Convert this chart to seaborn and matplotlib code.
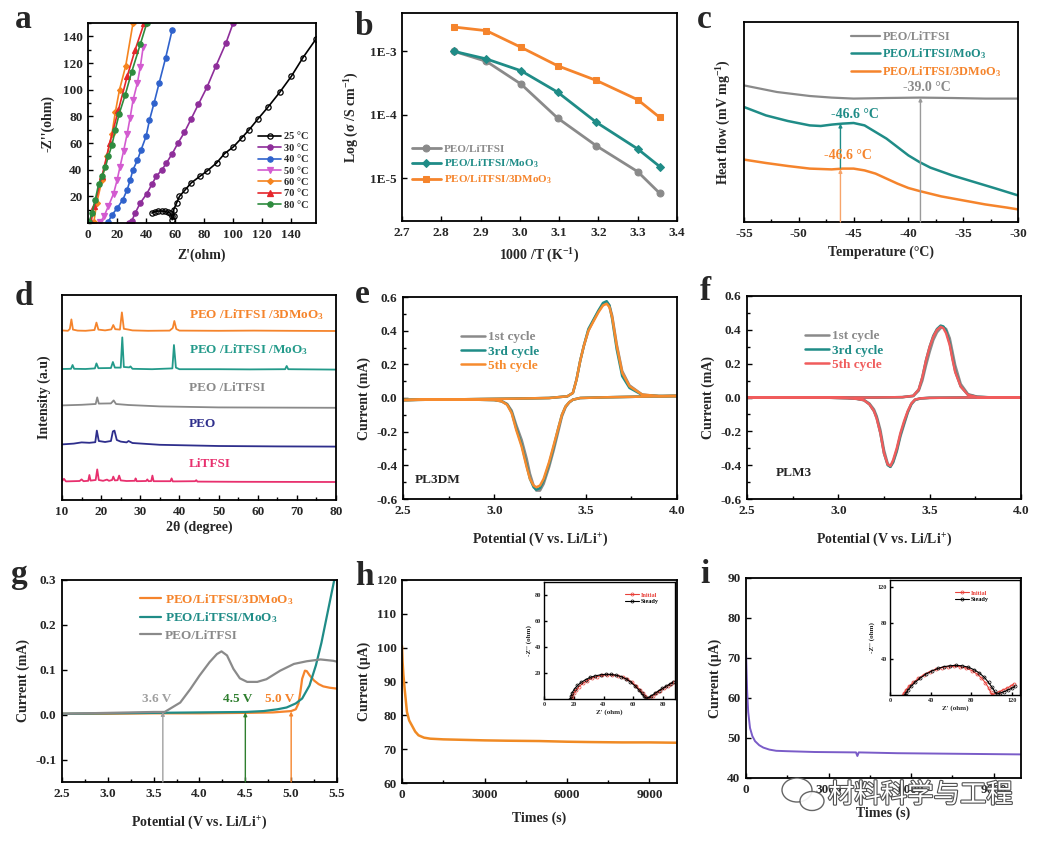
import matplotlib
matplotlib.use("Agg")
import matplotlib.pyplot as plt
import matplotlib.patheffects as pe
from matplotlib.patches import Ellipse
from matplotlib.ticker import AutoMinorLocator, NullLocator, MultipleLocator
import seaborn as sns

# ---------------- data ----------------
# (a) Nyquist plots at different temperatures
a_x_25 = [44, 46, 48.5, 51, 53, 55, 56.5, 57.7, 58, 59, 59, 61, 63, 67, 71, 77, 82, 88.5, 94, 100, 106, 111, 117, 124, 132, 140, 148, 157]
a_y_25 = [7.5, 8.5, 9, 9, 8.7, 8, 7.5, 5, 2.5, 5, 10, 15, 20, 25, 30, 35, 39, 45, 52, 57, 64, 70, 78, 87, 98, 110, 124, 138]
a_x_30 = [28, 30, 32.5, 36, 40.5, 44, 47, 51, 54, 58, 62, 66.4, 71, 76, 82, 88, 95, 100]
a_y_30 = [0, 1.2, 7.5, 15, 22, 29, 35, 40, 45, 52, 60, 68, 78, 89, 102, 117.5, 135, 150]
a_x_40 = [14, 16.5, 20, 24, 27, 29, 31, 34, 36.6, 40, 42.3, 45.5, 49, 53.5, 58]
a_y_40 = [1, 6, 11, 17.5, 25, 32, 40, 47, 55, 65, 77, 90, 105, 124, 145]
a_x_50 = [8.5, 11, 14, 17.6, 20, 22, 24.5, 27, 29, 31, 34, 36, 38]
a_y_50 = [0.5, 5, 12.5, 22, 32, 42, 54, 67, 79, 92, 105, 117, 132]
a_x_60 = [4, 6, 9.6, 13, 16.5, 18.8, 21.7, 26, 31]
a_y_60 = [0.5, 15, 32, 50, 67, 83, 100, 118, 150]
a_x_70 = [2, 4.3, 9.6, 15, 21, 27, 32.5, 38.7]
a_y_70 = [0.5, 12.5, 35, 60, 85, 110, 130, 150]
a_x_80 = [0.7, 2.7, 5, 7.3, 9.6, 12, 14, 16.5, 18.8, 21.5, 25.6, 30, 36, 40.5]
a_y_80 = [0.5, 7.5, 17.5, 29, 35, 42, 50, 58.5, 70, 82, 96, 113, 134, 150]
a_labels = ["25 °C", "30 °C", "40 °C", "50 °C", "60 °C", "70 °C", "80 °C"]

# (b) Arrhenius plot
b_x = [2.833, 2.915, 3.003, 3.096, 3.195, 3.300, 3.356]
b_peo = [1.0e-3, 6.95e-4, 3.05e-4, 8.9e-5, 3.24e-5, 1.27e-5, 5.8e-6]
b_moo3 = [1.0e-3, 7.6e-4, 4.95e-4, 2.28e-4, 7.6e-5, 2.9e-5, 1.53e-5]
b_3dmoo3 = [2.42e-3, 2.12e-3, 1.16e-3, 5.94e-4, 3.48e-4, 1.73e-4, 9.1e-5]

# (c) DSC curves (arbitrary heat flow units)
c_x_peo = [-55, -52, -49, -47, -45, -42, -39, -36, -33, -30]
c_y_peo = [68.3, 65, 63, 62.2, 61.7, 62, 62.2, 62, 61.7, 61.7]
c_x_moo3 = [-55, -53, -51, -49, -48, -47, -46, -45, -44, -43, -42, -41, -40, -39, -38, -36, -34, -32, -30]
c_y_moo3 = [57.5, 53.3, 50.5, 48.3, 48, 48.7, 49.2, 49.5, 48.3, 45, 41.7, 37.5, 33.3, 30, 27.2, 23.3, 20, 16.7, 13.3]
c_x_3d = [-55, -53, -51, -49, -47, -46, -45, -44, -43, -42, -41, -40, -39, -37, -35, -33, -31, -30]
c_y_3d = [31.2, 29.5, 28, 26.7, 26.3, 26.7, 26.7, 25.8, 24.2, 21.7, 19.2, 17, 15.5, 12.8, 10.8, 8.8, 7.2, 6.3]

# (d) XRD patterns (stacked, offset units)
d_x_3d = [10, 11.5, 12.0, 12.4, 12.8, 14, 16, 18.3, 18.8, 19.3, 21, 22.6, 23.1, 23.6, 24.8, 25.3, 25.8, 27, 28, 32, 37.5, 38.3, 38.7, 39.2, 40, 50, 59, 67.5, 80]
d_y_3d = [84.8, 84.6, 85.5, 90.3, 85.2, 84.7, 84.6, 85, 88.7, 85.2, 84.8, 85.3, 87.5, 85.4, 85.2, 93.8, 85.6, 85.2, 84.8, 84.6, 84.7, 86, 89.5, 85.5, 84.7, 84.6, 84.7, 84.6, 84.5]
d_x_moo3 = [10, 12.3, 12.7, 13.1, 16, 18.4, 18.8, 19.3, 22.5, 23, 23.5, 25, 25.4, 25.8, 27.2, 27.5, 28, 33, 38.2, 38.6, 39.1, 40, 50, 58, 67, 67.4, 67.8, 80]
d_y_moo3 = [65.5, 65.6, 67.5, 65.6, 65.5, 65.8, 68.3, 65.9, 66, 69, 66.2, 66.2, 81.3, 66.5, 66.3, 66.8, 65.6, 65.4, 65.8, 77.5, 66.2, 65.4, 65.4, 65.3, 65.4, 67, 65.4, 65.2]
d_x_peo_li = [10, 15, 18.6, 19, 19.4, 22.5, 23.2, 23.8, 27, 35, 50, 65, 80]
d_y_peo_li = [47.3, 47.6, 48, 51.3, 48.2, 48.3, 49.8, 48, 47.5, 46.8, 46.3, 46.2, 46.1]
d_x_peo = [10, 13, 15, 17, 18.5, 18.9, 19.4, 21, 22.5, 23.0, 23.4, 24, 25, 26.5, 27, 28, 35, 50, 65, 80]
d_y_peo = [27.8, 28.2, 28.8, 28.6, 28.9, 34.7, 29.5, 29, 29.5, 34.3, 34.7, 30, 29.2, 28.8, 29.5, 28.5, 27.6, 27, 26.8, 26.7]
d_x_li = [10, 10.5, 11, 14.5, 15, 15.5, 16.7, 17.0, 17.3, 18.6, 19.0, 19.4, 20.5, 21.5, 22, 22.8, 23.1, 23.5, 24.2, 24.6, 25, 26.5, 28.6, 28.8, 29.1, 31.5, 31.8, 32.1, 32.8, 33.1, 33.4, 37.7, 38, 38.3, 44, 44.3, 44.6, 55, 80]
d_y_li = [9.4, 10.6, 9.3, 9.5, 10.3, 9.4, 9.6, 12.5, 9.7, 10, 15.3, 10, 9.6, 10.2, 9.6, 10, 11.7, 9.8, 9.9, 12.2, 9.8, 9.5, 9.6, 10.8, 9.4, 9.5, 10.3, 9.4, 9.5, 12.2, 9.4, 9.4, 10.8, 9.3, 9.4, 9.9, 9.2, 9.1, 9.0]
d_labels = ["PEO /LiTFSI /3DMoO$_3$", "PEO /LiTFSI /MoO$_3$", "PEO /LiTFSI", "PEO", "LiTFSI"]
d_label_y = [92.5, 75, 55.8, 38, 17.8]

# (e) CV of PL3DM: anodic and cathodic branches
e_xa = [2.5, 2.8, 3.1, 3.3, 3.4, 3.43, 3.45, 3.47, 3.49, 3.515, 3.54, 3.57, 3.595, 3.615, 3.63, 3.645, 3.67, 3.70, 3.74, 3.81, 3.9, 4.0]
e_ya_1 = [-0.012, -0.008, -0.004, 0.0, 0.01, 0.03, 0.11, 0.22, 0.31, 0.40, 0.455, 0.515, 0.555, 0.57, 0.55, 0.49, 0.32, 0.16, 0.075, 0.02, 0.012, 0.012]
e_ya_3 = [-0.012, -0.008, -0.004, 0.0, 0.01, 0.03, 0.11, 0.22, 0.31, 0.41, 0.46, 0.52, 0.565, 0.575, 0.55, 0.47, 0.29, 0.13, 0.06, 0.018, 0.012, 0.012]
e_ya_5 = [-0.012, -0.008, -0.004, 0.0, 0.01, 0.03, 0.11, 0.22, 0.31, 0.40, 0.45, 0.51, 0.55, 0.56, 0.54, 0.48, 0.31, 0.15, 0.07, 0.02, 0.012, 0.012]
e_xc = [4.0, 3.8, 3.6, 3.47, 3.43, 3.41, 3.39, 3.37, 3.35, 3.325, 3.3, 3.27, 3.25, 3.23, 3.215, 3.195, 3.177, 3.15, 3.12, 3.095, 3.07, 3.04, 3.0, 2.9, 2.7, 2.5]
e_yc_1 = [0.012, 0.008, 0.004, 0.0, -0.01, -0.027, -0.055, -0.11, -0.2, -0.31, -0.41, -0.51, -0.55, -0.55, -0.52, -0.45, -0.36, -0.25, -0.16, -0.075, -0.035, -0.018, -0.012, -0.01, -0.008, -0.012]
e_yc_3 = [0.012, 0.008, 0.004, 0.0, -0.01, -0.025, -0.05, -0.1, -0.18, -0.29, -0.39, -0.49, -0.535, -0.545, -0.53, -0.48, -0.40, -0.28, -0.18, -0.085, -0.038, -0.02, -0.012, -0.01, -0.008, -0.012]
e_yc_5 = [0.012, 0.008, 0.004, 0.0, -0.01, -0.025, -0.05, -0.1, -0.18, -0.28, -0.38, -0.48, -0.52, -0.53, -0.52, -0.48, -0.41, -0.29, -0.19, -0.09, -0.04, -0.02, -0.012, -0.01, -0.008, -0.012]

# (f) CV of PLM3
f_xa = [2.5, 2.9, 3.2, 3.35, 3.41, 3.44, 3.46, 3.48, 3.5, 3.52, 3.54, 3.56, 3.575, 3.59, 3.61, 3.625, 3.64, 3.67, 3.71, 3.76, 3.85, 4.0]
f_ya_1 = [0.0, 0.0, 0.0, 0.002, 0.008, 0.04, 0.1, 0.19, 0.27, 0.34, 0.385, 0.41, 0.415, 0.405, 0.35, 0.27, 0.19, 0.08, 0.02, 0.005, 0.0, 0.0]
f_ya_3 = [0.0, 0.0, 0.0, 0.002, 0.01, 0.047, 0.12, 0.22, 0.3, 0.365, 0.405, 0.425, 0.42, 0.395, 0.32, 0.235, 0.155, 0.065, 0.016, 0.004, 0.0, 0.0]
f_ya_5 = [0.0, 0.0, 0.0, 0.002, 0.01, 0.047, 0.12, 0.22, 0.3, 0.36, 0.40, 0.418, 0.41, 0.38, 0.31, 0.225, 0.15, 0.065, 0.015, 0.003, 0.0, 0.0]
f_xc = [4.0, 3.7, 3.5, 3.45, 3.42, 3.40, 3.38, 3.36, 3.34, 3.32, 3.30, 3.285, 3.27, 3.25, 3.23, 3.21, 3.195, 3.17, 3.14, 3.1, 3.05, 2.9, 2.5]
f_yc_1 = [0.0, 0.0, -0.002, -0.006, -0.015, -0.04, -0.09, -0.16, -0.23, -0.32, -0.385, -0.41, -0.39, -0.31, -0.19, -0.11, -0.07, -0.035, -0.014, -0.007, -0.004, 0.0, 0.0]
f_yc_3 = [0.0, 0.0, -0.002, -0.005, -0.013, -0.037, -0.085, -0.15, -0.22, -0.31, -0.38, -0.41, -0.4, -0.33, -0.21, -0.12, -0.08, -0.04, -0.016, -0.008, -0.004, 0.0, 0.0]
f_yc_5 = [0.0, 0.0, -0.002, -0.005, -0.012, -0.035, -0.08, -0.14, -0.21, -0.3, -0.37, -0.405, -0.395, -0.33, -0.21, -0.125, -0.08, -0.04, -0.016, -0.008, -0.004, 0.0, 0.0]
cycle_labels = ["1st cycle", "3rd cycle", "5th cycle"]

# (g) LSV curves
g_x_peo = [2.5, 3.0, 3.5, 3.62, 3.79, 3.9, 4.0, 4.11, 4.19, 4.24, 4.3, 4.37, 4.44, 4.52, 4.63, 4.73, 4.88, 5.03, 5.17, 5.32, 5.46, 5.5]
g_y_peo = [0.002, 0.004, 0.006, 0.006, 0.027, 0.057, 0.087, 0.117, 0.135, 0.141, 0.132, 0.102, 0.081, 0.073, 0.073, 0.079, 0.098, 0.113, 0.119, 0.123, 0.12, 0.118]
g_x_moo3 = [2.5, 3.0, 3.5, 4.0, 4.5, 4.7, 4.85, 4.95, 5.05, 5.12, 5.2, 5.27, 5.33, 5.38, 5.43, 5.47, 5.5]
g_y_moo3 = [0.002, 0.003, 0.004, 0.005, 0.006, 0.008, 0.012, 0.016, 0.025, 0.036, 0.065, 0.11, 0.16, 0.21, 0.26, 0.3, 0.34]
g_x_3d = [2.5, 3.0, 3.5, 4.0, 4.5, 4.8, 5.0, 5.05, 5.08, 5.1, 5.12, 5.15, 5.17, 5.2, 5.25, 5.3, 5.35, 5.42, 5.5]
g_y_3d = [0.002, 0.002, 0.003, 0.003, 0.004, 0.005, 0.008, 0.012, 0.025, 0.05, 0.08, 0.098, 0.097, 0.088, 0.076, 0.068, 0.063, 0.06, 0.058]
g_onsets = [3.6, 4.5, 5.0]
g_onset_labels = ["3.6 V", "4.5 V", "5.0 V"]

# (h) chronoamperometry, PL3DM, with EIS inset
h_t = [0, 20, 50, 100, 180, 260, 360, 480, 600, 800, 1030, 1500, 2000, 3000, 3800, 5000, 6000, 6840, 8000, 9000, 10000]
h_i = [100.5, 96, 92, 87.5, 81, 78.5, 77, 75.2, 74.1, 73.4, 73.1, 72.9, 72.8, 72.6, 72.5, 72.4, 72.2, 72.1, 72.0, 72.0, 71.9]
h_ins_x_init = [18.5, 19, 20, 21.5, 23.5, 26, 29, 32, 35.5, 39, 42.5, 46, 49.5, 53, 56, 59, 62, 64.5, 66.5, 68, 69.5, 71, 73, 75.5, 78, 80.5, 83, 85.5, 87]
h_ins_y_init = [0, 2, 4.5, 7, 9.5, 12, 14.2, 16, 17.3, 18.2, 18.6, 18.5, 18, 16.8, 15.2, 13, 10, 7, 4.3, 2, 0.5, 1, 2.5, 4.5, 6.5, 8.3, 10, 11.8, 13]
h_ins_x_st = [17.8, 18.2, 19, 20.5, 22.5, 25, 28, 31, 34.5, 38, 41.5, 45, 48.5, 52, 55, 58, 61, 63.5, 65.5, 67, 68.5, 70, 72, 74.5, 77, 79.5, 82, 84.5, 86.5]
h_ins_y_st = [0, 2.3, 5, 7.8, 10.4, 12.8, 14.9, 16.6, 17.8, 18.6, 19, 18.9, 18.3, 17.1, 15.5, 13.2, 10.2, 7.2, 4.5, 2.2, 0.6, 1, 2.4, 4.3, 6.3, 8.1, 9.8, 11.5, 12.8]

# (i) chronoamperometry, PLM3, with EIS inset
i_t = [0, 15, 40, 80, 146, 230, 330, 480, 630, 850, 1100, 1500, 2500, 4000, 4050, 4100, 5500, 7000, 8500, 10000]
i_i = [71.8, 68, 62, 56.5, 52.5, 50.5, 49.2, 48.2, 47.6, 47.1, 46.8, 46.7, 46.5, 46.4, 45.5, 46.4, 46.2, 46.1, 46.0, 45.9]
i_ins_x_init = [13, 14, 16, 19, 23, 28, 33, 39, 45, 51, 57, 63, 69, 75, 81, 86, 90, 94, 97, 99, 100.5, 103, 107, 111, 115, 119, 122]
i_ins_y_init = [0, 2.5, 6, 10, 14, 18.5, 22.5, 26, 28.5, 30.5, 31.5, 32, 31.5, 30, 27, 23, 19, 13.5, 8, 3.5, 0.5, 1.5, 3.5, 5.5, 7.5, 10, 12.5]
i_ins_x_st = [15, 16, 18, 21, 25, 30, 35, 41, 47, 53, 59, 65, 71, 77, 83, 88, 93, 97, 100.5, 103, 105, 108, 112, 116, 120, 123]
i_ins_y_st = [0, 2.5, 6, 10, 14.5, 19, 23, 26.5, 29.5, 31.5, 32.5, 33, 32.5, 31, 28, 24.5, 19.5, 14, 8.5, 4, 1, 2, 3.5, 5.5, 7.5, 9.5]

# ---------------- style ----------------
sns.set_theme(style="ticks")
plt.rcParams['font.family'] = ['Liberation Serif', 'DejaVu Serif']
plt.rcParams['font.weight'] = 'bold'
plt.rcParams['axes.labelweight'] = 'bold'
plt.rcParams['mathtext.fontset'] = 'custom'
plt.rcParams['mathtext.rm'] = 'Liberation Serif:bold'
plt.rcParams['mathtext.it'] = 'Liberation Serif:italic:bold'
plt.rcParams['mathtext.bf'] = 'Liberation Serif:bold'
plt.rcParams['axes.unicode_minus'] = False

GRAY = '#8a8a8a'
TEAL = '#1f8c87'
ORANGE = '#f5842c'

W, H = 1042, 841
fig = plt.figure(figsize=(W / 100, H / 100), dpi=100)


def box(l, r, t, b):
    return [l / W, 1 - b / H, (r - l) / W, (b - t) / H]


def style(ax, fs=9.5, lab=10, lw=1.3, major=3.5, minor=2, pad=4):
    for s in ax.spines.values():
        s.set_visible(True)
        s.set_linewidth(lw)
        s.set_color('black')
    ax.tick_params(which='both', direction='in', width=1.0, color='black',
                   labelsize=fs, pad=pad)
    ax.tick_params(which='major', length=major)
    ax.tick_params(which='minor', length=minor)
    ax.xaxis.label.set_size(lab)
    ax.yaxis.label.set_size(lab)


def color_texts(leg):
    for t, h in zip(leg.get_texts(), leg.legend_handles):
        t.set_color(h.get_color())


def line(ax, x, y, color, lw=1.8, **kw):
    kw.setdefault('markeredgecolor', color)
    sns.lineplot(x=x, y=y, color=color, lw=lw, sort=False, estimator=None,
                 ax=ax, **kw)


# ---------------- (a) ----------------
ax = fig.add_axes(box(88, 316, 23, 223))
a_series = [
    (a_x_25, a_y_25, 'black', 'o', True),
    (a_x_30, a_y_30, '#8e2e9a', 'o', False),
    (a_x_40, a_y_40, '#2f62cc', 'o', False),
    (a_x_50, a_y_50, '#d35bd0', 'v', False),
    (a_x_60, a_y_60, '#f5841f', 'D', False),
    (a_x_70, a_y_70, '#e5262b', '^', False),
    (a_x_80, a_y_80, '#2e8b3e', 'o', False),
]
for (xs, ys, c, m, hollow), lab in zip(a_series, a_labels):
    line(ax, xs, ys, c, lw=1.2, marker=m, markersize=3.8 if m != 'D' else 3,
         markerfacecolor='none' if hollow else c, markeredgewidth=0.9, label=lab)
ax.set_xlim(0, 157)
ax.set_ylim(0, 150)
ax.set_xticks(range(0, 141, 20))
ax.set_yticks(range(20, 141, 20))
ax.yaxis.set_minor_locator(MultipleLocator(10))
ax.set_xlabel("Z'(ohm)", labelpad=6)
ax.set_ylabel("-Z''(ohm)", labelpad=6)
style(ax)
ax.legend(loc='lower right', bbox_to_anchor=(1.0, 0.03), fontsize=7.5, frameon=False,
          handlelength=2.2, labelspacing=0.2, handletextpad=0.3, borderpad=0.2)

# ---------------- (b) ----------------
ax = fig.add_axes(box(402, 677, 13, 221))
line(ax, b_x, b_peo, GRAY, lw=2, marker='o', markersize=5, markerfacecolor=GRAY, label='PEO/LiTFSI')
line(ax, b_x, b_moo3, TEAL, lw=2, marker='D', markersize=4.5, markerfacecolor=TEAL, label='PEO/LiTFSI/MoO$_3$')
line(ax, b_x, b_3dmoo3, ORANGE, lw=2, marker='s', markersize=4.5, markerfacecolor=ORANGE, label='PEO/LiTFSI/3DMoO$_3$')
ax.set_yscale('log')
ax.set_xlim(2.7, 3.4)
ax.set_ylim(2.12e-6, 4.03e-3)
ax.set_yticks([1e-5, 1e-4, 1e-3])
ax.set_yticklabels(['1E-5', '1E-4', '1E-3'])
ax.yaxis.set_minor_locator(NullLocator())
ax.set_xticks([2.7, 2.8, 2.9, 3.0, 3.1, 3.2, 3.3, 3.4])
ax.set_xlabel("1000 /T (K$^{-1}$)", labelpad=6)
ax.set_ylabel("Log (σ /S cm$^{-1}$)", labelpad=6)
style(ax)
leg = ax.legend(loc='lower left', bbox_to_anchor=(0.0, 0.12), fontsize=8, frameon=False,
                handlelength=2.6, labelspacing=0.3, handletextpad=0.3)
color_texts(leg)

# ---------------- (c) ----------------
ax = fig.add_axes(box(744, 1018, 22, 222))
line(ax, c_x_peo, c_y_peo, GRAY, lw=1.6, label='PEO/LiTFSI')
line(ax, c_x_moo3, c_y_moo3, TEAL, lw=1.8, label='PEO/LiTFSI/MoO$_3$')
line(ax, c_x_3d, c_y_3d, ORANGE, lw=1.8, label='PEO/LiTFSI/3DMoO$_3$')
arrow_kw = dict(arrowstyle='-|>', lw=1.0, mutation_scale=5, shrinkA=0, shrinkB=0)
ax.annotate('', xy=(-38.9, 62.2), xytext=(-38.9, 0), arrowprops=dict(color='#9a9a9a', **arrow_kw))
ax.annotate('', xy=(-46.2, 26.5), xytext=(-46.2, 0), arrowprops=dict(color='#f7a46a', **arrow_kw))
ax.annotate('', xy=(-46.2, 49.2), xytext=(-46.2, 27), arrowprops=dict(color=TEAL, **arrow_kw))
ax.text(-38.3, 67, '-39.0 °C', color=GRAY, fontsize=10, ha='center', va='center')
ax.text(-44.9, 53.5, '-46.6 °C', color=TEAL, fontsize=10, ha='center', va='center')
ax.text(-45.5, 33, '-46.6 °C', color=ORANGE, fontsize=10, ha='center', va='center')
ax.set_xlim(-55, -30)
ax.set_ylim(0, 100)
ax.set_yticks([])
ax.set_xticks(range(-55, -29, 5))
ax.xaxis.set_minor_locator(AutoMinorLocator(2))
ax.set_xlabel("Temperature (°C)", labelpad=4)
ax.set_ylabel("Heat flow (mV mg$^{-1}$)", labelpad=8)
style(ax)
leg = ax.legend(loc='upper right', bbox_to_anchor=(0.98, 1.01), fontsize=8.8, frameon=False,
                handlelength=2.4, labelspacing=0.25, handletextpad=0.2)
color_texts(leg)

# ---------------- (d) ----------------
ax = fig.add_axes(box(62, 336, 295, 500))
d_series = [
    (d_x_3d, d_y_3d, ORANGE),
    (d_x_moo3, d_y_moo3, '#239a8a'),
    (d_x_peo_li, d_y_peo_li, GRAY),
    (d_x_peo, d_y_peo, '#2e2e8c'),
    (d_x_li, d_y_li, '#e8306e'),
]
for (xs, ys, c), lab, ly in zip(d_series, d_labels, d_label_y):
    line(ax, xs, ys, c, lw=1.3)
    ax.text(42.4, ly, lab, color=c, fontsize=9.5, ha='left', va='center')
ax.set_xlim(10, 80)
ax.set_ylim(0, 102.5)
ax.set_yticks([])
ax.set_xticks(range(10, 81, 10))
ax.xaxis.set_minor_locator(AutoMinorLocator(2))
ax.set_xlabel("2θ (degree)", labelpad=2)
ax.set_ylabel("Intensity (a.u)", labelpad=8)
style(ax)

# ---------------- (e) ----------------
ax = fig.add_axes(box(403, 677, 297, 499))
e_cols = [GRAY, TEAL, '#f68b2e']
for ya, yc, c, lab in zip([e_ya_1, e_ya_3, e_ya_5], [e_yc_1, e_yc_3, e_yc_5], e_cols, cycle_labels):
    line(ax, e_xa + e_xc, ya + yc, c, lw=1.8, label=lab)
ax.text(2.565, -0.486, 'PL3DM', fontsize=9.5, ha='left', va='center')
ax.set_xlim(2.5, 4.0)
ax.set_ylim(-0.6, 0.6)
ax.set_xticks([2.5, 3.0, 3.5, 4.0])
ax.set_yticks([-0.6, -0.4, -0.2, 0.0, 0.2, 0.4, 0.6])
ax.xaxis.set_minor_locator(AutoMinorLocator(2))
ax.yaxis.set_minor_locator(AutoMinorLocator(2))
ax.set_xlabel("Potential (V vs. Li/Li$^{+}$)", labelpad=10)
ax.set_ylabel("Current (mA)", labelpad=4)
style(ax)
leg = ax.legend(loc='upper left', bbox_to_anchor=(0.17, 0.89), fontsize=9.5, frameon=False,
                handlelength=1.8, labelspacing=0.15, handletextpad=0.2)
color_texts(leg)

# ---------------- (f) ----------------
ax = fig.add_axes(box(747, 1021, 296, 499))
f_cols = [GRAY, TEAL, '#f05c5c']
for ya, yc, c, lab in zip([f_ya_1, f_ya_3, f_ya_5], [f_yc_1, f_yc_3, f_yc_5], f_cols, cycle_labels):
    line(ax, f_xa + f_xc, ya + yc, c, lw=1.8, label=lab)
ax.text(2.655, -0.446, 'PLM3', fontsize=9.5, ha='left', va='center')
ax.set_xlim(2.5, 4.0)
ax.set_ylim(-0.6, 0.6)
ax.set_xticks([2.5, 3.0, 3.5, 4.0])
ax.set_yticks([-0.6, -0.4, -0.2, 0.0, 0.2, 0.4, 0.6])
ax.xaxis.set_minor_locator(AutoMinorLocator(2))
ax.yaxis.set_minor_locator(AutoMinorLocator(2))
ax.set_xlabel("Potential (V vs. Li/Li$^{+}$)", labelpad=10)
ax.set_ylabel("Current (mA)", labelpad=4)
style(ax)
leg = ax.legend(loc='upper left', bbox_to_anchor=(0.17, 0.89), fontsize=9.5, frameon=False,
                handlelength=1.8, labelspacing=0.15, handletextpad=0.2)
color_texts(leg)

# ---------------- (g) ----------------
ax = fig.add_axes(box(62, 337, 580, 782))
line(ax, g_x_3d, g_y_3d, ORANGE, lw=1.6, label='PEO/LiTFSI/3DMoO$_3$')
line(ax, g_x_moo3, g_y_moo3, TEAL, lw=1.6, label='PEO/LiTFSI/MoO$_3$')
line(ax, g_x_peo, g_y_peo, GRAY, lw=1.6, label='PEO/LiTFSI')
onset_cols = ['#a0a0a0', '#2f7f2f', ORANGE]
onset_tips = [0.006, 0.005, 0.007]
onset_text_x = [3.53, 4.42, 4.88]
for xv, tip, c, lab, tx in zip(g_onsets, onset_tips, onset_cols, g_onset_labels, onset_text_x):
    ax.annotate('', xy=(xv, tip), xytext=(xv, -0.15), arrowprops=dict(color=c, **arrow_kw))
    ax.text(tx, 0.034, lab, color=c, fontsize=9.5, ha='center', va='center')
ax.set_xlim(2.5, 5.5)
ax.set_ylim(-0.15, 0.3)
ax.set_xticks([2.5, 3.0, 3.5, 4.0, 4.5, 5.0, 5.5])
ax.set_yticks([-0.1, 0.0, 0.1, 0.2, 0.3])
ax.xaxis.set_minor_locator(AutoMinorLocator(2))
ax.set_xlabel("Potential (V vs. Li/Li$^{+}$)", labelpad=10)
ax.set_ylabel("Current (mA)", labelpad=4)
style(ax)
leg = ax.legend(loc='upper left', bbox_to_anchor=(0.24, 1.0), fontsize=9.5, frameon=False,
                handlelength=1.6, labelspacing=0.3, handletextpad=0.3)
color_texts(leg)

# ---------------- (h) ----------------
ax = fig.add_axes(box(402, 677, 580, 783))
line(ax, h_t, h_i, '#f08a24', lw=1.8)
ax.set_xlim(0, 10000)
ax.set_ylim(60, 120)
ax.set_xticks([0, 3000, 6000, 9000])
ax.set_yticks(range(60, 121, 10))
ax.xaxis.set_minor_locator(AutoMinorLocator(2))
ax.set_xlabel("Times (s)", labelpad=8)
ax.set_ylabel("Current (μA)", labelpad=4)
style(ax)

axi = fig.add_axes(box(544, 675, 582, 699))
line(axi, h_ins_x_init, h_ins_y_init, '#e8413a', lw=0.8, marker='o', markersize=2.2,
     markerfacecolor='none', markeredgewidth=0.5, label='Initial')
line(axi, h_ins_x_st, h_ins_y_st, 'black', lw=0.8, marker='o', markersize=2.2,
     markerfacecolor='none', markeredgewidth=0.5, label='Steady')
axi.set_xlim(0, 88)
axi.set_ylim(0, 90)
axi.set_xticks([0, 20, 40, 60, 80])
axi.set_yticks([20, 40, 60, 80])
axi.set_xlabel("Z' (ohm)", labelpad=2)
axi.set_ylabel("-Z'' (ohm)", labelpad=2)
style(axi, fs=4.5, lab=5, lw=1.0, major=2, minor=1, pad=2)
leg = axi.legend(loc='upper right', bbox_to_anchor=(0.92, 0.96), fontsize=4.5, frameon=False,
                 handlelength=2.2, labelspacing=0.2, handletextpad=0.3)
color_texts(leg)

# ---------------- (i) ----------------
ax = fig.add_axes(box(746, 1021, 578, 778))
line(ax, i_t, i_i, '#7a5cc8', lw=1.4)
ax.set_xlim(0, 10000)
ax.set_ylim(40, 90)
ax.set_xticks([0, 3000, 6000, 9000])
ax.set_yticks(range(40, 91, 10))
ax.xaxis.set_minor_locator(AutoMinorLocator(2))
ax.set_xlabel("Times (s)", labelpad=8)
ax.set_ylabel("Current (μA)", labelpad=4)
style(ax)

axi = fig.add_axes(box(890, 1020, 580, 695))
line(axi, i_ins_x_init, i_ins_y_init, '#e8413a', lw=0.8, marker='o', markersize=2.2,
     markerfacecolor='none', markeredgewidth=0.5, label='Initial')
line(axi, i_ins_x_st, i_ins_y_st, 'black', lw=0.8, marker='o', markersize=2.2,
     markerfacecolor='none', markeredgewidth=0.5, label='Steady')
axi.set_xlim(0, 128)
axi.set_ylim(0, 128)
axi.set_xticks([0, 40, 80, 120])
axi.set_yticks([40, 80, 120])
axi.set_xlabel("Z' (ohm)", labelpad=2)
axi.set_ylabel("-Z'' (ohm)", labelpad=2)
style(axi, fs=4.5, lab=5, lw=1.0, major=2, minor=1, pad=2)
leg = axi.legend(loc='upper right', bbox_to_anchor=(0.8, 0.96), fontsize=4.5, frameon=False,
                 handlelength=2.2, labelspacing=0.2, handletextpad=0.3)
color_texts(leg)

# ---------------- panel letters ----------------
letters = ['a', 'b', 'c', 'd', 'e', 'f', 'g', 'h', 'i']
letter_px = [(15, 28), (355, 35), (697, 28), (15, 305), (355, 303), (700, 300), (10, 583), (355, 585), (700, 583)]
for lt, (px, py) in zip(letters, letter_px):
    fig.text(px / W, 1 - py / H, lt, fontsize=24, fontweight='bold', ha='left', va='baseline')

# ---------------- watermark ----------------
for cx, cy, ew, eh in [(797, 790, 30, 24), (812, 801, 24, 19)]:
    fig.add_artist(Ellipse((cx / W, 1 - cy / H), ew / W, eh / H, transform=fig.transFigure,
                           facecolor='white', edgecolor='#555555', lw=1.0, alpha=0.9))
fig.text(828 / W, 1 - 795 / H, '材料科学与工程', fontsize=19, color='white',
         family=['Noto Sans CJK SC', 'DejaVu Sans'], fontweight='normal', ha='left', va='center',
         path_effects=[pe.withStroke(linewidth=1.6, foreground='#505050')])

fig.savefig('out.png', dpi=100)
